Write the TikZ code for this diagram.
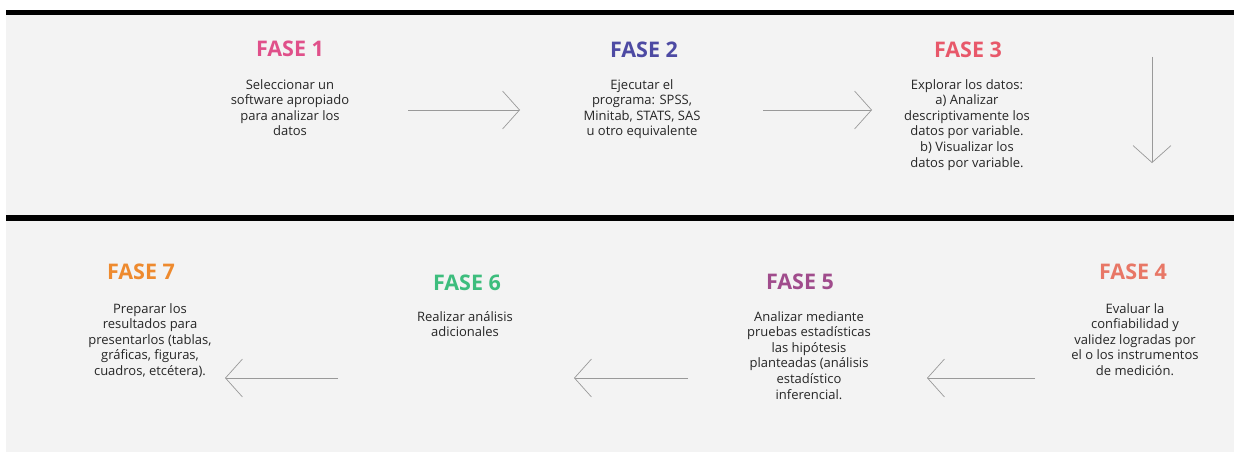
\documentclass[tikz,border=0pt]{standalone}
\usepackage{fontspec}
\setmainfont{Open Sans}
\usetikzlibrary{arrows.meta}
\definecolor{fondo}{HTML}{F3F3F3}
\definecolor{c1}{HTML}{E0508A}
\definecolor{c2}{HTML}{4D4AA3}
\definecolor{c3}{HTML}{E8586A}
\definecolor{c4}{HTML}{E87766}
\definecolor{c5}{HTML}{A04C8C}
\definecolor{c6}{HTML}{3DBD7D}
\definecolor{c7}{HTML}{EE8A2E}

\begin{document}
\begin{tikzpicture}[x=1pt,y=-1pt,
    fase/.style={font=\bfseries\fontsize{21.5}{23}\selectfont,inner sep=0pt},
    texto/.style={align=center,anchor=north,inner sep=0pt,text=black!85,
      font=\fontsize{13}{15.6}\selectfont},
    flecha/.style={draw=black!40,line width=0.7pt,
      -{Straight Barb[length=17pt,width=38pt,line width=0.7pt]}}]
        \useasboundingbox (0,0) rectangle (1234,452);
        % fondos y barras
        \fill[white] (0,0) rectangle (1234,452);
        \fill[fondo] (6,14) rectangle (1234,216);
        \fill[fondo] (6,220) rectangle (1234,452);
        \fill[black] (6,10) rectangle (1234,15);
        \fill[black] (6,215) rectangle (1234,221);
        % fila superior
        \node[fase,text=c1] (f1) at (290,49) {FASE 1};
        \node[texto] (t1) at (290,79) {Seleccionar un\\software apropiado\\para analizar los\\datos};
        \node[fase,text=c2] (f2) at (644,50) {FASE 2};
        \node[texto] (t2) at (642,79) {Ejecutar el\\programa: SPSS,\\Minitab, STATS, SAS\\u otro equivalente};
        \node[fase,text=c3] (f3) at (968,50) {FASE 3};
        \node[texto] (t3) at (967,79) {Explorar los datos:\\a) Analizar\\descriptivamente los\\datos por variable.\\b) Visualizar los\\datos por variable.};
        % fila inferior
        \node[fase,text=c4] (f4) at (1133,272) {FASE 4};
        \node[texto] (t4) at (1135,303) {Evaluar la\\confiabilidad y\\validez logradas por\\el o los instrumentos\\de medición.};
        \node[fase,text=c5] (f5) at (800,282) {FASE 5};
        \node[texto] (t5) at (809,311) {Analizar mediante\\pruebas estadísticas\\las hipótesis\\planteadas (análisis\\estadístico\\inferencial.};
        \node[fase,text=c6] (f6) at (467,283) {FASE 6};
        \node[texto] (t6) at (465,311) {Realizar análisis\\adicionales};
        \node[fase,text=c7] (f7) at (141,272) {FASE 7};
        \node[texto] (t7) at (150,303) {Preparar los\\resultados para\\presentarlos (tablas,\\gráficas, figuras,\\cuadros, etcétera).};
        % flechas
        \coordinate (a1) at (408,110);
        \coordinate (b1) at (520,110);
        \coordinate (a2) at (763,110);
        \coordinate (b2) at (872,110);
        \coordinate (a3) at (1152,57);
        \coordinate (b3) at (1152,163);
        \coordinate (a4) at (1035,378);
        \coordinate (b4) at (927,378);
        \coordinate (a5) at (688,378);
        \coordinate (b5) at (574,378);
        \coordinate (a6) at (338,378);
        \coordinate (b6) at (225,378);
        \draw[flecha] (a1) -- (b1);
        \draw[flecha] (a2) -- (b2);
        \draw[flecha] (a3) -- (b3);
        \draw[flecha] (a4) -- (b4);
        \draw[flecha] (a5) -- (b5);
        \draw[flecha] (a6) -- (b6);
\end{tikzpicture}
\end{document}
